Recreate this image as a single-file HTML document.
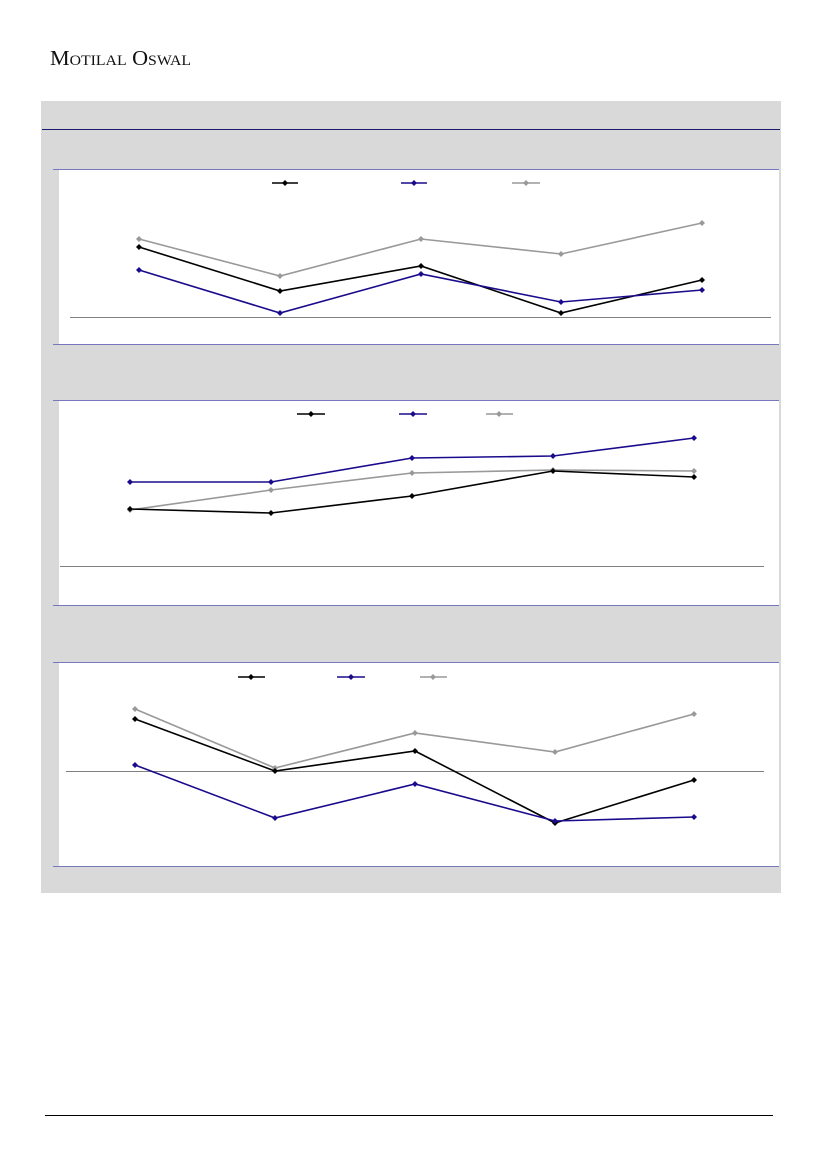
<!DOCTYPE html>
<html><head><meta charset="utf-8"><style>
html,body{margin:0;padding:0;background:#fff;}
svg{display:block;}
</style></head><body>
<svg width="827" height="1169" viewBox="0 0 827 1169" xmlns="http://www.w3.org/2000/svg">
<text x="50" y="65" font-family="Liberation Serif, serif" font-size="21" style="font-variant:small-caps" textLength="141" lengthAdjust="spacingAndGlyphs" fill="#111">Motilal Oswal</text>
<rect x="41" y="101" width="740" height="792" fill="#d9d9d9"/>
<line x1="42" y1="129.5" x2="780" y2="129.5" stroke="#1a1a6e" stroke-width="1"/>
<rect x="59" y="169" width="720" height="175" fill="#fff"/>
<rect x="59" y="400" width="720" height="205" fill="#fff"/>
<rect x="59" y="662" width="720" height="204" fill="#fff"/>
<g stroke="#7777bb" stroke-width="1">
<line x1="53" y1="169.5" x2="779" y2="169.5"/><line x1="53" y1="344.5" x2="779" y2="344.5"/>
<line x1="53" y1="400.5" x2="779" y2="400.5"/><line x1="53" y1="605.5" x2="779" y2="605.5"/>
<line x1="53" y1="662.5" x2="779" y2="662.5"/><line x1="53" y1="866.5" x2="779" y2="866.5"/>
</g>
<g stroke="#808080" stroke-width="1">
<line x1="70" y1="317.5" x2="771" y2="317.5"/>
<line x1="60" y1="566.5" x2="764" y2="566.5"/>
<line x1="66" y1="771.5" x2="764" y2="771.5"/>
</g>
<defs>
<g id="mk"><path d="M0,-3 L3,0 L0,3 L-3,0Z"/></g>
</defs>
<g fill="none" stroke-width="1.6">
<polyline stroke="#999" points="139,239 280,276 421,239 561,254 702,223"/>
<polyline stroke="#000" points="139,247 280,291 421,266 561,313 702,280"/>
<polyline stroke="#1a0a8c" points="139,270 280,313 421,274 561,302 702,290"/>
<line x1="272" y1="183" x2="298" y2="183" stroke="#000"/>
<line x1="401" y1="183" x2="427" y2="183" stroke="#1a0a8c"/>
<line x1="512" y1="183" x2="540" y2="183" stroke="#999"/>
<polyline stroke="#999" points="130,510 271,490 412,473 553,470 694,471"/>
<polyline stroke="#000" points="130,509 271,513 412,496 553,471 694,477"/>
<polyline stroke="#1a0a8c" points="130,482 271,482 412,458 553,456 694,438"/>
<line x1="297" y1="414" x2="325" y2="414" stroke="#000"/>
<line x1="399" y1="414" x2="427" y2="414" stroke="#1a0a8c"/>
<line x1="486" y1="414" x2="513" y2="414" stroke="#999"/>
<polyline stroke="#999" points="135,709 275,768 415,733 555,752 694,714"/>
<polyline stroke="#000" points="135,719 275,771 415,751 555,823 694,780"/>
<polyline stroke="#1a0a8c" points="135,765 275,818 415,784 555,821 694,817"/>
<line x1="238" y1="677" x2="265" y2="677" stroke="#000"/>
<line x1="337" y1="677" x2="365" y2="677" stroke="#1a0a8c"/>
<line x1="420" y1="677" x2="447" y2="677" stroke="#999"/>
</g>
<g fill="#999">
<use href="#mk" x="139" y="239"/><use href="#mk" x="280" y="276"/><use href="#mk" x="421" y="239"/><use href="#mk" x="561" y="254"/><use href="#mk" x="702" y="223"/><use href="#mk" x="526" y="183"/>
<use href="#mk" x="130" y="510"/><use href="#mk" x="271" y="490"/><use href="#mk" x="412" y="473"/><use href="#mk" x="553" y="470"/><use href="#mk" x="694" y="471"/><use href="#mk" x="499" y="414"/>
<use href="#mk" x="135" y="709"/><use href="#mk" x="275" y="768"/><use href="#mk" x="415" y="733"/><use href="#mk" x="555" y="752"/><use href="#mk" x="694" y="714"/><use href="#mk" x="433" y="677"/>
</g>
<g fill="#000">
<use href="#mk" x="139" y="247"/><use href="#mk" x="280" y="291"/><use href="#mk" x="421" y="266"/><use href="#mk" x="561" y="313"/><use href="#mk" x="702" y="280"/><use href="#mk" x="285" y="183"/>
<use href="#mk" x="130" y="509"/><use href="#mk" x="271" y="513"/><use href="#mk" x="412" y="496"/><use href="#mk" x="553" y="471"/><use href="#mk" x="694" y="477"/><use href="#mk" x="311" y="414"/>
<use href="#mk" x="135" y="719"/><use href="#mk" x="275" y="771"/><use href="#mk" x="415" y="751"/><use href="#mk" x="555" y="823"/><use href="#mk" x="694" y="780"/><use href="#mk" x="251" y="677"/>
</g>
<g fill="#1a0a8c">
<use href="#mk" x="139" y="270"/><use href="#mk" x="280" y="313"/><use href="#mk" x="421" y="274"/><use href="#mk" x="561" y="302"/><use href="#mk" x="702" y="290"/><use href="#mk" x="414" y="183"/>
<use href="#mk" x="130" y="482"/><use href="#mk" x="271" y="482"/><use href="#mk" x="412" y="458"/><use href="#mk" x="553" y="456"/><use href="#mk" x="694" y="438"/><use href="#mk" x="413" y="414"/>
<use href="#mk" x="135" y="765"/><use href="#mk" x="275" y="818"/><use href="#mk" x="415" y="784"/><use href="#mk" x="555" y="821"/><use href="#mk" x="694" y="817"/><use href="#mk" x="351" y="677"/>
</g>
<line x1="45" y1="1115.5" x2="773" y2="1115.5" stroke="#000" stroke-width="1"/>
</svg>
</body></html>
